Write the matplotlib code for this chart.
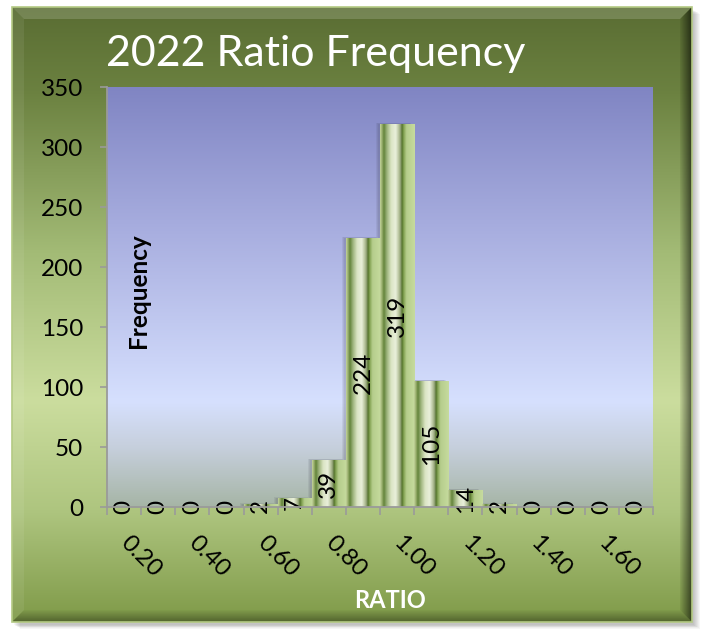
import numpy as np
import matplotlib
matplotlib.use('Agg')
import matplotlib.pyplot as plt
from matplotlib.colors import LinearSegmentedColormap
from matplotlib.patches import Polygon, Rectangle
import matplotlib.transforms as mtransforms

# ---------------- data ----------------
categories = ['0.20', '0.30', '0.40', '0.50', '0.60', '0.70', '0.80', '0.90',
              '1.00', '1.10', '1.20', '1.30', '1.40', '1.50', '1.60', '1.70']
frequency = [0, 0, 0, 0, 2, 7, 39, 224, 319, 105, 14, 2, 0, 0, 0, 0]
y_ticks = [0, 50, 100, 150, 200, 250, 300, 350]
chart_title = '2022 Ratio Frequency'
x_title = 'RATIO'
y_title = 'Frequency'

plt.rcParams['font.family'] = ['Lato', 'DejaVu Sans']

W, H = 702, 629
fig = plt.figure(figsize=(W / 100, H / 100), dpi=100)
fig.patch.set_facecolor('white')


def grad(stops, n=256):
    cmap = LinearSegmentedColormap.from_list('g', stops)
    return cmap(np.linspace(0, 1, n))


# ---------------- background frame ----------------
bg = fig.add_axes([0, 0, 1, 1])
bg.set_xlim(0, W)
bg.set_ylim(H, 0)
bg.axis('off')

L, T, R, B = 12, 7, 692, 622
# soft shadow
for i in range(7):
    bg.add_patch(Rectangle((L + 2 + i, T + 3 + i * 0.6), R - L, B - T,
                           facecolor='black', alpha=0.035, edgecolor='none', zorder=0))

frame_stops = [(0.0, '#5a6d33'), (0.135, '#6b8140'), (0.40, '#a3bb76'),
               (0.64, '#cbdd9e'), (0.82, '#aec57f'), (1.0, '#7f9a48')]
bg.imshow(grad(frame_stops)[:, None, :], extent=(L, R, B, T), aspect='auto',
          zorder=1, interpolation='bilinear')

b = 12
top_poly = Polygon([(L, T), (R, T), (R - b, T + b), (L + b, T + b)], closed=True,
                   facecolor='white', alpha=0.16, edgecolor='none', zorder=2)
left_poly = Polygon([(L, T), (L + b, T + b), (L + b, B - b), (L, B)], closed=True,
                    facecolor='white', alpha=0.07, edgecolor='none', zorder=2)
bg.add_patch(top_poly)
bg.add_patch(left_poly)

right_poly = Polygon([(R, T), (R, B), (R - b, B - b), (R - b, T + b)], closed=True,
                     facecolor='none', edgecolor='none', zorder=2)
bg.add_patch(right_poly)
rg = np.zeros((1, 64, 4))
rg[..., 3] = np.linspace(0.05, 0.6, 64)
im_r = bg.imshow(rg, extent=(R - b, R, B, T), aspect='auto', zorder=2,
                 interpolation='bilinear')
im_r.set_clip_path(right_poly)

bottom_poly = Polygon([(L, B), (R, B), (R - b, B - b), (L + b, B - b)], closed=True,
                      facecolor='none', edgecolor='none', zorder=2)
bg.add_patch(bottom_poly)
bgr = np.zeros((64, 1, 4))
bgr[..., 3] = np.linspace(0.02, 0.35, 64)[:, None]
im_b = bg.imshow(bgr, extent=(L, R, B, B - b), aspect='auto', zorder=2,
                 interpolation='bilinear')
im_b.set_clip_path(bottom_poly)

bg.add_patch(Rectangle((L, T), R - L, B - T, fill=False, edgecolor='#b4ca84',
                       linewidth=1.2, zorder=3))

# ---------------- plot area ----------------
ax = fig.add_axes([107 / W, (H - 507) / H, 546 / W, 420 / H])
ax.patch.set_visible(False)

plot_stops = [(0.0, '#8085c3'), (0.35, '#a9afe0'), (0.75, '#d6e0fe'),
              (0.86, '#c6cfdc'), (1.0, '#a6b5a6')]
ax.imshow(grad(plot_stops)[:, None, :], extent=(0, 1, 0, 1), transform=ax.transAxes,
          aspect='auto', zorder=0, interpolation='bilinear')

bar_stops = [(0.0, '#c2d39a'), (0.06, '#94ab68'), (0.11, '#63833a'), (0.2, '#9fb57e'),
             (0.32, '#dbe5c4'), (0.45, '#e9efdb'), (0.55, '#b0bd94'), (0.6, '#849668'),
             (0.63, '#52712a'), (0.68, '#82a252'), (0.76, '#b6cd8c'), (1.0, '#c6db9e')]
stripe = grad(bar_stops, 200)[None, :, :]

x = np.arange(len(categories))
bars = ax.bar(x, frequency, width=1.0, color='none', edgecolor='none', zorder=2)
for rect in bars:
    h = rect.get_height()
    if h <= 0:
        continue
    x0, w = rect.get_x(), rect.get_width()
    for k, a in [(4, 0.08), (3, 0.08), (2, 0.08)]:
        ax.add_patch(Rectangle((x0, 0), w, h, facecolor='#303040', alpha=a,
                               edgecolor='none', zorder=1.5,
                               transform=mtransforms.offset_copy(ax.transData, fig=fig,
                                                                 x=-k, y=k / 3,
                                                                 units='dots')))
    ax.imshow(stripe, extent=(x0, x0 + w, 0, h), aspect='auto', zorder=2,
              interpolation='bilinear')

for xi, v in zip(x, frequency):
    ax.text(xi, v / 2, str(v), rotation=90, ha='center', va='center',
            fontsize=17.5, color='black', zorder=4)

ax.set_xlim(-0.5, len(categories) - 0.5)
ax.set_ylim(0, 350)

for s in ['top', 'right']:
    ax.spines[s].set_visible(False)
for s in ['left', 'bottom']:
    ax.spines[s].set_color('#9a9a9a')
    ax.spines[s].set_linewidth(1.3)
    ax.spines[s].set_zorder(5)

ax.set_yticks(y_ticks)
ax.set_yticklabels([str(t) for t in y_ticks])
ax.tick_params(axis='y', length=5, width=1.2, color='#9a9a9a', pad=12, labelsize=17.5)

ax.set_xticks(x[::2])
ax.set_xticklabels(categories[::2], rotation=-45, rotation_mode='anchor',
                   ha='left', va='center')
ax.tick_params(axis='x', which='major', length=0, pad=23, labelsize=17.5)
ax.set_xticks(np.arange(-0.5, len(categories), 1.0), minor=True)
ax.tick_params(axis='x', which='minor', length=6, width=1.2, color='#9a9a9a')

# ---------------- texts ----------------
fig.text(106 / W, 1 - 66 / H, chart_title, color='white', fontsize=31,
         ha='left', va='baseline')
fig.text(139 / W, 1 - 291 / H, y_title, rotation=90, fontweight='bold',
         fontsize=17.5, ha='center', va='center', color='black')
fig.text(390 / W, 1 - 600 / H, x_title, color='white', fontweight='bold',
         fontsize=17, ha='center', va='center')

fig.savefig('out.png', dpi=100)
